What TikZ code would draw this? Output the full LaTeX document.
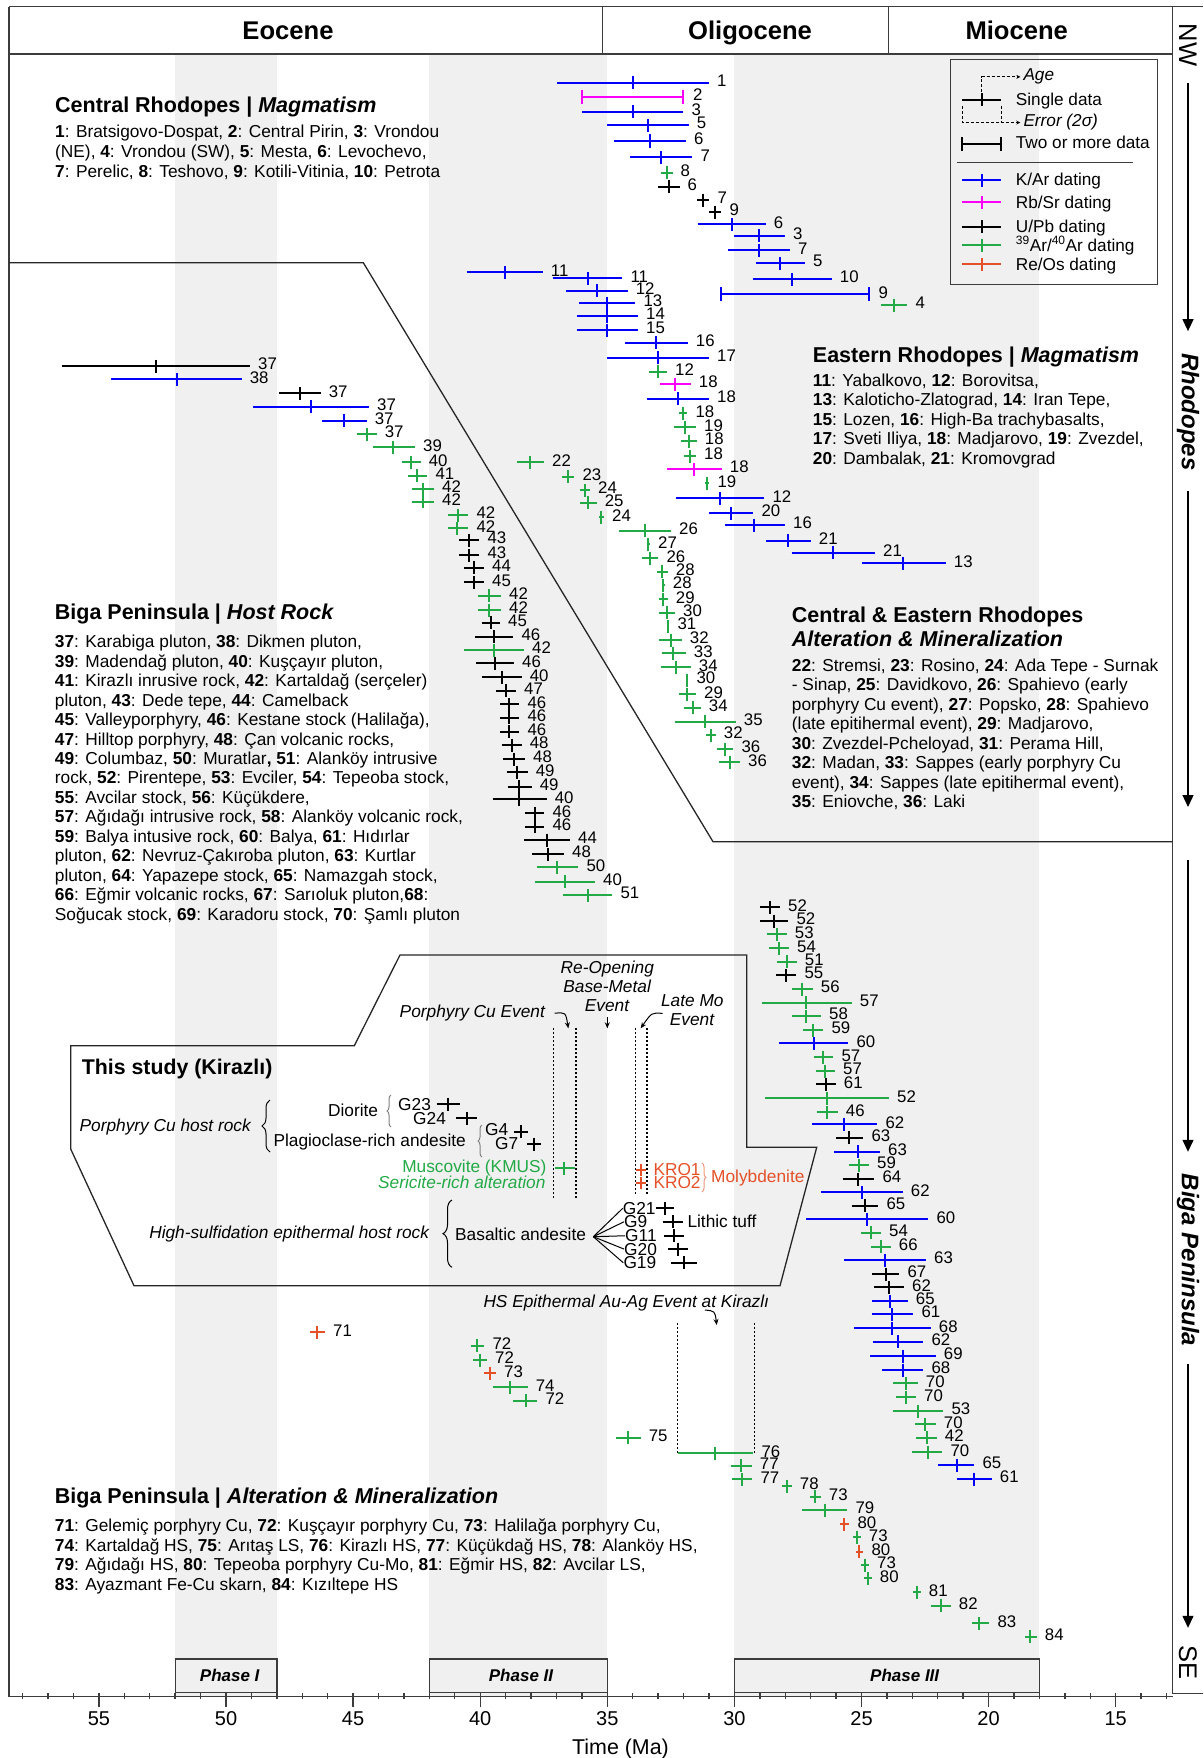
\documentclass[tikz,border=0pt]{standalone}
\usepackage{fontspec}
\setmainfont{Liberation Sans}
\usetikzlibrary{arrows.meta, positioning, calc, decorations.pathreplacing}

\definecolor{karblue}{RGB}{0,0,250}
\definecolor{rbsrpink}{RGB}{250,0,250}
\definecolor{arargreen}{RGB}{35,170,70}
\definecolor{reosred}{RGB}{228,80,40}
\definecolor{bandgray}{RGB}{240,240,240}
\definecolor{framegray}{RGB}{60,60,60}

\newcommand{\sitenum}[1]{\textbf{#1}}
\newcommand{\fs}[2]{\fontsize{#1}{#2}\selectfont}

\tikzset{
    chart/.style={x=1pt, y=-1pt, >=Stealth},
    frameline/.style={draw=framegray, line width=1.4pt},
    regionline/.style={draw=black!85, line width=1.3pt},
    bandfill/.style={fill=bandgray},
    era/.style={anchor=base, inner sep=0pt, font=\fs{25.6}{30}\bfseries},
    phasebox/.style={draw=framegray, fill=bandgray, line width=1.4pt, inner sep=0pt},
    phaselab/.style={inner sep=0pt, font=\fs{17}{20}\bfseries\itshape},
    axtick/.style={draw=framegray, line width=1.4pt},
    ticklab/.style={inner sep=0pt, font=\fs{20}{24}},
    axistitle/.style={anchor=base, inner sep=0pt, font=\fs{21.4}{25}},
    sidelabel/.style={rotate=-90, inner sep=0pt, font=\fs{24}{28}\bfseries\itshape},
    sideplain/.style={rotate=-90, inner sep=0pt, font=\fs{25.5}{28}},
    sidearrow/.style={line width=1.3pt, -{Triangle[length=12pt, width=11pt]}},
    % data bars: line, age tick, number label
    datum/.style={line width=1.8pt},
    kar/.style={draw=karblue},
    rbsr/.style={draw=rbsrpink},
    upb/.style={draw=black},
    arar/.style={draw=arargreen},
    reos/.style={draw=reosred},
    numlab/.style={anchor=west, inner sep=0pt, font=\fs{16.8}{18}},
    blocktitle/.style={anchor=base west, inner sep=0pt, font=\fs{21.5}{24}\bfseries},
    blocktext/.style={anchor=base west, inner sep=0pt, font=\fs{17.3}{19.5}},
    boxtext/.style={inner sep=0pt, font=\fs{17.3}{19.5}},
    legtext/.style={anchor=base west, inner sep=0pt, font=\fs{17.2}{19.5}},
    legdash/.style={line width=1pt, dash pattern=on 3pt off 2pt},
    evline/.style={line width=1.5pt, dash pattern=on 1.5pt off 2.5pt},
    evarrow/.style={line width=1pt, -{Stealth[length=6pt, width=5pt]}},
    curly/.style={decorate, decoration={brace, amplitude=#1}, line width=1pt},
}

\begin{document}
\begin{tikzpicture}[chart]
\useasboundingbox (0,0) rectangle (1203,1758);

% phase bands
\foreach \ta/\tb in {52/48, 42/35, 30/18}
    \fill[bandfill] ({1497-25.42*\ta},54) rectangle ({1497-25.42*\tb},1696.7);

% frame and epochs
\draw[frameline] (9,6.7) -- (1203,6.7);
\draw[frameline] (9,6.7) -- (9,1696.7) -- (1172.7,1696.7);
\draw[frameline] (9,54) -- (1172.7,54);
\draw[frameline] (602.3,6.7) -- (602.3,54) (888.3,6.7) -- (888.3,54);
\draw[frameline] (1172.7,6.7) -- (1172.7,1693.3) -- (1203,1693.3);
\node[era] (eocene) at (288,40) {Eocene};
\node[era] (oligocene) at (750,40) {Oligocene};
\node[era] (miocene) at (1016.7,40) {Miocene};

% NW -> SE column
\node[sideplain] (nw) at (1188,45) {NW};
\node[sidelabel] (rhod) at (1188,412) {Rhodopes};
\node[sidelabel] (biga) at (1188,1260) {Biga Peninsula};
\node[sideplain] (se) at (1188,1662) {SE};
\coordinate (rhod-end) at (1188,807);
\coordinate (biga-start) at (1188,860);
\draw[sidearrow, shorten <=17pt, shorten >=22pt] (nw) -- (rhod);
\draw[sidearrow, shorten <=20pt] (rhod) -- (rhod-end);
\draw[sidearrow, shorten >=22pt] (biga-start) -- (biga);
\draw[sidearrow, shorten <=18pt, shorten >=17pt] (biga) -- (se);

% region outlines
\draw[regionline] (9,262.7) -- (363.3,262.7) -- (713,841.7) -- (1172.7,841.7);
\draw[regionline] (70.7,1045.7) -- (354.3,1045.7) -- (400,955) -- (746.7,955) -- (746.7,1147.3)
    -- (816.7,1147.3) -- (780,1285.7) -- (134,1285.7) -- (70.7,1149) -- cycle;

% phases
\node[phasebox, minimum width=101.8pt, minimum height=33.7pt] (ph1) at (226.1,1675.9) {};
\node[phasebox, minimum width=177.9pt, minimum height=33.7pt] (ph2) at (518.4,1675.9) {};
\node[phasebox, minimum width=305pt, minimum height=33.7pt] (ph3) at (886.9,1675.9) {};
\node[phaselab] (ph1lab) at (229.7,1675.9) {Phase I};
\node[phaselab] (ph2lab) at (521,1675.9) {Phase II};
\node[phaselab] (ph3lab) at (904.7,1675.9) {Phase III};

% time axis
\foreach \t in {13,...,58}
    \draw[axtick] ({1497-25.42*\t},1693) -- ++(0,6);
\foreach \t in {15,20,...,55} {
    \draw[axtick] ({1497-25.42*\t},1693) -- ++(0,14);
    \node[ticklab] (tl\t) at ({1497-25.42*\t},1719) {\t};
}
\node[axistitle] (time) at (620.5,1754) {Time (Ma)};

% legend
\draw[frameline, line width=1.3pt] (950.3,59.3) rectangle (1157.7,284.3);
\draw[framegray, line width=1.2pt] (957.3,162.3) -- (1132.7,162.3);
\node[legtext] (lage) at (1023.3,81) {\textit{Age}};
\node[legtext] (lsingle) at (1015.7,106) {Single data};
\node[legtext] (lerr) at (1023.3,127) {\textit{Error (2σ)}};
\node[legtext] (ltwo) at (1015.7,149) {Two or more data};
\node[legtext] (lkar) at (1015.7,185) {K/Ar dating};
\node[legtext] (lrbsr) at (1015.7,208.3) {Rb/Sr dating};
\node[legtext] (lupb) at (1015.7,232.7) {U/Pb dating};
\node[legtext] (larar) at (1015.7,251) {\textsuperscript{39}Ar/\textsuperscript{40}Ar dating};
\node[legtext] (lreos) at (1015.7,270.3) {Re/Os dating};
\draw[datum, upb] (962.3,100) -- (1001,100) (981.7,93.5) -- (981.7,106.5);
\draw[legdash, -{Stealth[length=4pt, width=4pt]}] (981.7,92) |- ([xshift=-3pt]lage.west);
\draw[legdash, -{Stealth[length=4pt, width=4pt]}] (962.3,106) |- ([xshift=-3pt]lerr.west);
\draw[legdash] (1001,106) -- (1001,121.7);
\draw[datum, upb] (962.3,137) -- (962.3,151) (962.3,144) -- (1001,144) (1001,137) -- (1001,151);
\foreach \col/\yy in {kar/180, rbsr/202.3, upb/226.7, arar/245, reos/264.3}
    \draw[datum, \col] (962.3,\yy) -- (1001,\yy) (981.7,\yy-6.5) -- (981.7,\yy+6.5);

% text blocks
\node[blocktitle] (crtitle) at (55,112.3) {Central Rhodopes | \textit{Magmatism}};
\foreach \ln [count=\k] in {
    {\sitenum{1}: Bratsigovo-Dospat, \sitenum{2}: Central Pirin, \sitenum{3}: Vrondou},
    {(NE), \sitenum{4}: Vrondou (SW), \sitenum{5}: Mesta, \sitenum{6}: Levochevo,},
    {\sitenum{7}: Perelic, \sitenum{8}: Teshovo, \sitenum{9}: Kotili-Vitinia, \sitenum{10}: Petrota}}
    \node[blocktext] (crline\k) at (55,{138+19.5*(\k-1)}) {\ln};

\node[blocktitle] (ertitle) at (812.7,362.7) {Eastern Rhodopes | \textit{Magmatism}};
\foreach \ln [count=\k] in {
    {\sitenum{11}: Yabalkovo, \sitenum{12}: Borovitsa,},
    {\sitenum{13}: Kaloticho-Zlatograd, \sitenum{14}: Iran Tepe,},
    {\sitenum{15}: Lozen, \sitenum{16}: High-Ba trachybasalts,},
    {\sitenum{17}: Sveti Iliya, \sitenum{18}: Madjarovo, \sitenum{19}: Zvezdel,},
    {\sitenum{20}: Dambalak, \sitenum{21}: Kromovgrad}}
    \node[blocktext] (erline\k) at (812.7,{386+19.5*(\k-1)}) {\ln};

\node[blocktitle] (cetitle) at (791.7,622.7) {Central \& Eastern Rhodopes};
\node[blocktitle] (cetitleb) at (791.7,646.7) {\textit{Alteration \& Mineralization}};
\foreach \ln [count=\k] in {
    {\sitenum{22}: Stremsi, \sitenum{23}: Rosino, \sitenum{24}: Ada Tepe - Surnak},
    {- Sinap, \sitenum{25}: Davidkovo, \sitenum{26}: Spahievo (early},
    {porphyry Cu event), \sitenum{27}: Popsko, \sitenum{28}: Spahievo},
    {(late epitihermal event), \sitenum{29}: Madjarovo,},
    {\sitenum{30}: Zvezdel-Pcheloyad, \sitenum{31}: Perama Hill,},
    {\sitenum{32}: Madan, \sitenum{33}: Sappes (early porphyry Cu},
    {event), \sitenum{34}: Sappes (late epitihermal event),},
    {\sitenum{35}: Eniovche, \sitenum{36}: Laki}}
    \node[blocktext] (celine\k) at (791.7,{671+19.5*(\k-1)}) {\ln};

\node[blocktitle] (bhtitle) at (54.7,619.3) {Biga Peninsula | \textit{Host Rock}};
\foreach \ln [count=\k] in {
    {\sitenum{37}: Karabiga pluton, \sitenum{38}: Dikmen pluton,},
    {\sitenum{39}: Madendağ pluton, \sitenum{40}: Kuşçayır pluton,},
    {\sitenum{41}: Kirazlı inrusive rock, \sitenum{42}: Kartaldağ (serçeler)},
    {pluton, \sitenum{43}: Dede tepe, \sitenum{44}: Camelback},
    {\sitenum{45}: Valleyporphyry, \sitenum{46}: Kestane stock (Halilağa),},
    {\sitenum{47}: Hilltop porphyry, \sitenum{48}: Çan volcanic rocks,},
    {\sitenum{49}: Columbaz, \sitenum{50}: Muratlar\textbf{,} \sitenum{51}: Alanköy intrusive},
    {rock, \sitenum{52}: Pirentepe, \sitenum{53}: Evciler, \sitenum{54}: Tepeoba stock,},
    {\sitenum{55}: Avcilar stock, \sitenum{56}: Küçükdere,},
    {\sitenum{57}: Ağıdağı intrusive rock, \sitenum{58}: Alanköy volcanic rock,},
    {\sitenum{59}: Balya intusive rock, \sitenum{60}: Balya, \sitenum{61}: Hıdırlar},
    {pluton, \sitenum{62}: Nevruz-Çakıroba pluton, \sitenum{63}: Kurtlar},
    {pluton, \sitenum{64}: Yapazepe stock, \sitenum{65}: Namazgah stock,},
    {\sitenum{66}: Eğmir volcanic rocks, \sitenum{67}: Sarıoluk pluton,\sitenum{68}:},
    {Soğucak stock, \sitenum{69}: Karadoru stock, \sitenum{70}: Şamlı pluton}}
    \node[blocktext] (bhline\k) at (54.7,{647.7+19.47*(\k-1)}) {\ln};

\node[blocktitle] (batitle) at (54.7,1503.3) {Biga Peninsula | \textit{Alteration \& Mineralization}};
\foreach \ln [count=\k] in {
    {\sitenum{71}: Gelemiç porphyry Cu, \sitenum{72}: Kuşçayır porphyry Cu, \sitenum{73}: Halilağa porphyry Cu,},
    {\sitenum{74}: Kartaldağ HS, \sitenum{75}: Arıtaş LS, \sitenum{76}: Kirazlı HS, \sitenum{77}: Küçükdağ HS, \sitenum{78}: Alanköy HS,},
    {\sitenum{79}: Ağıdağı HS, \sitenum{80}: Tepeoba porphyry Cu-Mo, \sitenum{81}: Eğmir HS, \sitenum{82}: Avcilar LS,},
    {\sitenum{83}: Ayazmant Fe-Cu skarn, \sitenum{84}: Kızıltepe HS}}
    \node[blocktext] (baline\k) at (54.7,{1531.7+19.5*(\k-1)}) {\ln};

% data: colour / y / left / age / right / site
\foreach \col/\yy/\xl/\xm/\xr/\lab [count=\i] in {
    kar/82.7/556.7/632.7/709/1, kar/111.7/582.3/632.7/683.3/3, kar/125.3/607.3/648.3/688.7/5,
    kar/141/613.7/650/686/6, kar/157.3/630/661/692.3/7, arar/172.7/661/666.7/672.5/8,
    upb/186.7/658/668.7/679.5/6, upb/200/697.3/703.3/709.3/7, upb/212/709.3/715.3/721.3/9,
    kar/224.3/697.7/731.7/765.7/6, kar/235.7/734.3/759.3/785/3, kar/250.3/728.3/759.3/790/7,
    kar/263.3/755.7/780/805/5, kar/279/752.7/792.3/831.7/10, arar/305/880.7/894.3/907.3/4,
    kar/272.3/466.7/505/542.7/11, kar/278.3/552.7/587.7/622.3/11, kar/290.7/565.7/596.7/627.7/12,
    kar/303/579/607.3/635.3/13, kar/316/576.7/607.3/638/14, kar/330/576.7/607.3/638/15,
    kar/342.7/625/656/687.7/16, kar/357.7/607.3/657.7/709/17, arar/371.7/649/658/667/12,
    rbsr/384/660/675.3/690.7/18, kar/398.7/647.3/677.7/709/18, arar/413.3/679.3/683.3/687.3/18,
    arar/427.3/674/685/696/19, arar/441/680.7/688.7/696.7/18, arar/456/684/690/696/18,
    rbsr/469/667.3/694.3/721.7/18, arar/483.3/705.3/707.3/709.3/19, kar/498.3/675.7/720/764.3/12,
    kar/513/709.3/731/753.3/20, kar/525/725/754.3/785/16, kar/540.7/765.7/787.7/810.7/21,
    kar/552.7/791.7/833.3/875/21, kar/563.3/861.7/902.7/945.7/13,
    arar/462.3/516.7/530/544/22, arar/476.7/562.3/568.3/574.3/23, arar/490/580/585/590/24,
    arar/502.7/580/587.7/596.7/25, arar/517.3/599/601/604/24, arar/530.7/619/645/671/26,
    arar/544.3/646.7/647.7/650/27, arar/558.3/642.3/650/658.3/26, arar/571.7/657.3/662.3/667.7/28,
    arar/585/662/663.3/664.7/28, arar/599.3/658.7/663.3/667.7/29, arar/612.7/659.3/666.7/675/30,
    arar/626/667.3/668.3/669.3/31, arar/640/659.3/670.7/681.7/32, arar/653.3/661.7/673.3/685.7/33,
    arar/667.3/661/676/690.7/34, arar/680/686.3/687.3/688.3/30, arar/694.3/679.3/687.3/696/29,
    arar/707.7/684/693.3/700.7/34, arar/721.7/675/705/735.7/35, arar/735/705.7/710.7/715.7/32,
    arar/749/717.3/725/733.3/36, arar/762.3/719/730/740/36,
    upb/366/61.7/156/250/37, kar/379.3/111/176.7/241.7/38, upb/393.3/279.3/300/320.7/37,
    kar/406.7/253.3/310.7/369/37, kar/420.7/321.7/344.3/366.7/37, arar/434/356.7/366.7/376.7/37,
    arar/447.3/372.7/393.3/415/39, arar/462.3/401.7/410.7/420.7/40, arar/475.7/408.3/417.3/427.3/41,
    arar/489/412.3/422.7/434/42, arar/501.7/411.7/422.7/434/42, arar/515/448.3/458.3/468.3/42,
    arar/528.3/448.3/457.3/468.3/42, upb/540/459.3/469.3/479.3/43, upb/555/459.3/469.3/479.3/43,
    upb/567.7/464/474/484/44, upb/582.3/464/474/484/45, arar/595.7/478.3/489.3/501/42,
    arar/610/478.3/489.3/501/42, upb/622.7/481.7/490.7/500/45, upb/636.7/475/494.3/513.3/46,
    arar/650/464/494.3/524/42, upb/663.3/476/495/514/46, upb/677.3/481.7/501.7/521.7/40,
    upb/690.7/496/506/516/47, upb/704.3/500/509.3/519.3/46, upb/717.7/500/509.3/519.3/46,
    upb/731.7/500/509.3/519.3/46, upb/745/501.7/511.7/521.7/48, upb/759/502.7/514/525/48,
    upb/772.3/506.7/516.7/527.7/49, upb/786.7/507.7/519.3/531.7/49, upb/799.3/492.7/519.3/546.7/40,
    upb/813.3/525/535/544.3/46, upb/826.7/525/535/544.3/46, upb/840/524.3/546.7/570/44,
    upb/854/532.3/548.3/564/48, arar/867.3/536.7/557.3/578.3/50, arar/881.7/535/565/595/40,
    arar/895/563.3/588.3/612.3/51,
    upb/907.3/760/770/780/52, upb/921/760/774.3/788.3/52, arar/934.3/766.7/776.7/786.7/53,
    arar/948.3/769/779/789/54, arar/961.7/776.7/786.7/796.7/51, upb/975/776/785.7/796.3/55,
    arar/989/791.7/802.3/812.7/56, arar/1002.7/761.7/805.7/851.7/57, arar/1016/791.7/806/821/58,
    arar/1030/803.3/813.3/823.3/59, kar/1043.3/779/814/848.3/60, arar/1057.3/814/823.3/833.3/57,
    arar/1071/815.7/825/835/57, upb/1084.3/816/825.7/835.7/61, arar/1098.3/765/826.7/889/52,
    arar/1112.3/817.3/827.3/837.7/46, kar/1124.3/812.3/844.3/877.3/62, upb/1137.7/836/849.3/863.3/63,
    kar/1151.7/834/857.7/880/63, arar/1165/849/859/869/59, upb/1179/842.7/857.7/874.3/64,
    kar/1192.3/821/862.3/902.7/62, upb/1205.7/851.7/865/878.3/65, kar/1219.3/806/867.3/928.3/60,
    arar/1232.7/861/871/881/54, arar/1246.7/870.7/880.7/890.7/66, kar/1260/844.3/885/926/63,
    upb/1274/872.3/885.7/899.3/67, upb/1287.3/874/889/904/62, kar/1301/872.3/890/907.7/65,
    kar/1314/871.7/892.3/913.3/61, kar/1328.3/854.3/892.3/930.7/68, kar/1341.7/872.7/897.7/923.3/62,
    kar/1356/870/902.7/935.7/69, kar/1370/882.3/903.3/923.3/68, arar/1383.3/892.7/905.7/917.7/70,
    arar/1397.3/896/906/916/70, arar/1411/892.7/917.7/943.3/53, arar/1424.3/915/925/935.7/70,
    arar/1437.7/916/926.7/936.7/42, arar/1452.3/912.3/927.7/942.3/70, kar/1465/938.3/956.7/974.3/65,
    kar/1479/956.7/974.3/991.7/61,
    reos/1332.3/310.3/317.3/325/71, arar/1345.7/470.7/477.3/484.3/72, arar/1360/473/480/487/72,
    reos/1373.3/484.3/490/496/73, arar/1387.3/493.3/510/527.7/74, arar/1400.7/513.3/525.7/537.3/72,
    arar/1437.7/616/628.3/640.7/75, arar/1453.3/677.7/715/753.3/76, arar/1465.7/731/741/751.7/77,
    arar/1479.3/732.3/742.3/752.3/77, arar/1486/782/786.7/791.7/78, arar/1496.7/810/815/820.7/73,
    arar/1510/802.3/825/847.3/79, reos/1524.3/840/844.3/849.3/80, arar/1537.3/853/856.7/860.7/73,
    reos/1551.7/855.7/859.3/863.3/80, arar/1565/861/865/869/73, arar/1578.3/864/867.7/871.7/80,
    arar/1592.3/913/916.7/920.7/81, arar/1605.7/931/940.7/950.7/82, arar/1623.3/971.7/979.3/989.3/83,
    arar/1636.7/1025/1030/1036.7/84}
{
    \draw[datum, \col] (\xl,\yy) -- (\xr,\yy) (\xm,\yy-6.5) -- (\xm,\yy+6.5);
    \node[numlab] (d\i) at (\xr+8,\yy-2) {\lab};
}
% ranges with two or more data
\draw[datum, rbsr] (581.7,89.7) -- (581.7,103.7) (581.7,96.7) -- (683.3,96.7) (683.3,89.7) -- (683.3,103.7);
\node[numlab] (rb2) at (693,94.7) {2};
\draw[datum, kar] (720.7,287.3) -- (720.7,301.3) (720.7,294.3) -- (869.3,294.3) (869.3,287.3) -- (869.3,301.3);
\node[numlab] (ka9) at (878.3,292.3) {9};

% this study (Kirazli)
\node[blocktitle, font=\fs{21.3}{24}\bfseries] (study) at (81.7,1074.3) {This study (Kirazlı)};
\node[boxtext, anchor=base east] (pcuhost) at (251.7,1131) {\textit{Porphyry Cu host rock}};
\node[boxtext, anchor=base east] (diorite) at (378.3,1116.7) {Diorite};
\node[boxtext, anchor=base west] (plag) at (273.3,1146) {Plagioclase-rich andesite};
\node[boxtext, anchor=base west] (g23) at (398,1110.3) {G23};
\node[boxtext, anchor=base west] (g24) at (413,1124.3) {G24};
\node[boxtext, anchor=base west] (g4) at (485,1135.3) {G4};
\node[boxtext, anchor=base west] (g7) at (495,1149.3) {G7};
\node[boxtext, anchor=base east, text=arargreen] (kmus) at (546.7,1172) {Muscovite (KMUS)};
\node[boxtext, anchor=base east, text=arargreen] (seric) at (545.7,1188.7) {\textit{Sericite-rich alteration}};
\node[boxtext, anchor=base west, text=reosred] (kro1) at (653.3,1175) {KRO1};
\node[boxtext, anchor=base west, text=reosred] (kro2) at (653.3,1188.7) {KRO2};
\node[boxtext, anchor=base west, text=reosred] (moly) at (711,1182) {Molybdenite};
\node[boxtext, anchor=base east] (hshost) at (430,1238.3) {\textit{High-sulfidation epithermal host rock}};
\node[boxtext, anchor=base west] (basand) at (455,1240) {Basaltic andesite};
\node[boxtext, anchor=base west] (g21) at (622.7,1214.3) {G21};
\node[boxtext, anchor=base west] (g9) at (624,1227.7) {G9};
\node[boxtext, anchor=base west] (g11) at (625,1241.7) {G11};
\node[boxtext, anchor=base west] (g20) at (624,1255) {G20};
\node[boxtext, anchor=base west] (g19) at (623.3,1268.7) {G19};
\node[boxtext, anchor=base west] (lithic) at (687.3,1227) {Lithic tuff};

\draw[curly=8pt] (270,1152) -- (270,1100);
\draw[curly=4pt, gray] (391,1127) -- (391,1095);
\draw[curly=4pt, gray] (482,1157) -- (482,1125);
\draw[curly=4pt, reosred!60] (702,1163) -- (702,1192);
\draw[curly=9pt] (452,1267.3) -- (452,1200);

\coordinate (fan) at (593.3,1236.7);
\foreach \g in {g21, g9, g11, g20, g19}
    \draw[line width=1pt] (fan) -- (\g.west);

\foreach \xm/\yy/\w in {448.3/1104.3/11.7, 466.7/1118.3/10.3, 520.7/1131.7/7, 534/1144/7,
        665/1208.3/9, 672.7/1221.7/10, 674.3/1235.7/10, 678.3/1249/10, 684/1262.7/13}
    \draw[datum, upb] (\xm-\w,\yy) -- (\xm+\w,\yy) (\xm,\yy-6.5) -- (\xm,\yy+6.5);
\draw[datum, arar] (555,1168.3) -- (575,1168.3) (564.3,1161.8) -- (564.3,1174.8);
\foreach \yy in {1170, 1182.7}
    \draw[datum, reos] (635.7,\yy) -- (645.7,\yy) (640.7,\yy-6) -- (640.7,\yy+6);

% events
\node[boxtext, anchor=base east] (pcuev) at (545.7,1017.7) {\textit{Porphyry Cu Event}};
\node[boxtext, anchor=base] (reopen) at (607.3,973.3) {\textit{Re-Opening}};
\node[boxtext, anchor=base] (basemet) at (607.3,992.7) {\textit{Base-Metal}};
\node[boxtext, anchor=base] (bmevent) at (607.3,1011.7) {\textit{Event}};
\node[boxtext, anchor=base] (latemo) at (692.3,1006) {\textit{Late Mo}};
\node[boxtext, anchor=base] (moevent) at (692.3,1025.3) {\textit{Event}};
\node[boxtext, anchor=base west] (hsev) at (483.3,1307.7) {\textit{HS Epithermal Au-Ag Event at Kirazlı}};

\coordinate (pcu-end) at (568.3,1028.3);
\coordinate (bm-end) at (607.3,1028.3);
\coordinate (mo-end) at (640.7,1028.3);
\coordinate (hs-end) at (716.7,1325);
\draw[evarrow] (pcuev.east) ++(9,0) .. controls +(11,-1) .. (pcu-end);
\draw[evarrow, shorten <=5pt] (bmevent.south) -- (bm-end);
\draw[evarrow] (moevent.west) ++(-7,-6) .. controls +(-11,-1) .. (mo-end);
\draw[evarrow] (705,1310) .. controls (715,1311) .. (hs-end);

\draw[evline] (553.3,1028.3) -- (553.3,1200) (576,1028.3) -- (576,1200);
\draw[evline] (635.7,1028.3) -- (635.7,1196) (647,1028.3) -- (647,1196);
\draw[evline] (677.7,1323.3) -- (677.7,1453.3) (754.3,1323.3) -- (754.3,1453.3);
\end{tikzpicture}
\end{document}
